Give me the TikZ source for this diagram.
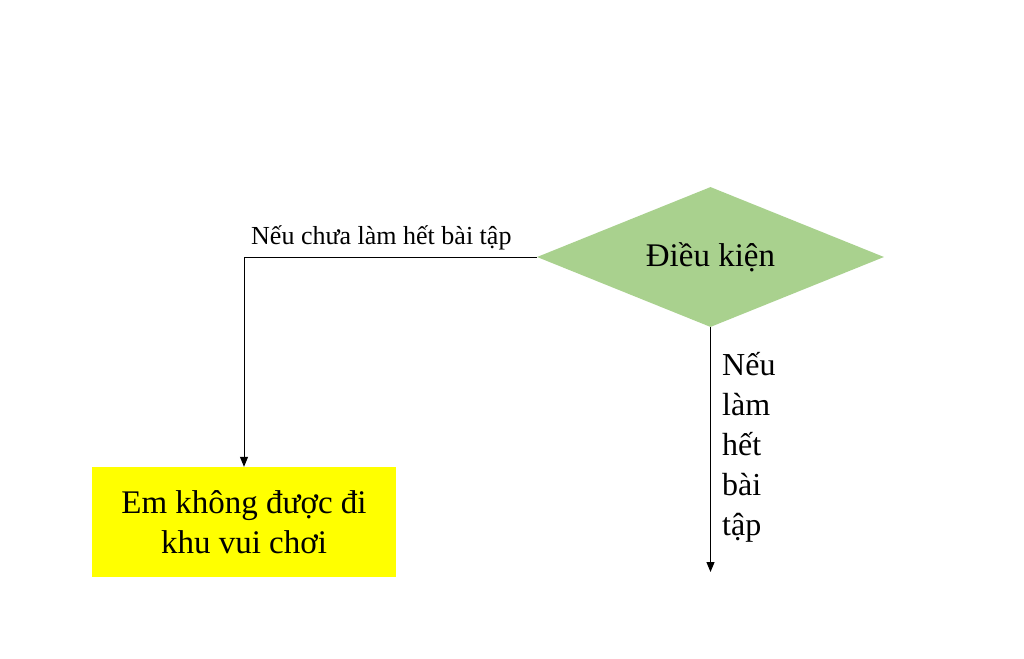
\documentclass[tikz,border=0pt]{standalone}
\usepackage{fontspec}
\setmainfont{Liberation Serif}
\usetikzlibrary{shapes.geometric,arrows.meta}
\definecolor{dgreen}{HTML}{A9D18E}
\definecolor{byellow}{HTML}{FFFF00}
\tikzset{
  cond/.style={diamond, fill=dgreen, inner sep=0pt, minimum width=347pt, minimum height=140pt, aspect=2.48, font=\fontsize{33}{40}\selectfont},
  outbox/.style={rectangle, fill=byellow, inner sep=0pt, minimum width=304pt, minimum height=110pt, align=center, font=\fontsize{33}{40}\selectfont},
  conn/.style={line width=1pt, -{Triangle[length=10pt,width=8pt]}},
  lbl/.style={inner sep=0pt, font=\fontsize{26}{30}\selectfont},
  vlbl/.style={inner sep=0pt, align=left, font=\fontsize{32}{40}\selectfont}
}
\begin{document}
\begin{tikzpicture}[x=1pt,y=-1pt]
\fill[white] (0,0) rectangle (1024,658);
\useasboundingbox (0,0) rectangle (1024,658);
\node[cond] (c) at (710.5,257) {Điều kiện};
\node[outbox] (no) at (244,522) {Em không được đi\\khu vui chơi};
\coordinate (yes) at (710.5,572);
\draw[conn] (c.west) -| (no.north);
\draw[conn] (c.south) -- (yes);
\node[lbl, anchor=base west] (l1) at (251,244) {Nếu chưa làm hết bài tập};
\node[vlbl, anchor=base west] (l2) at (722,535) {Nếu\\làm\\hết\\bài\\tập};
\end{tikzpicture}
\end{document}
